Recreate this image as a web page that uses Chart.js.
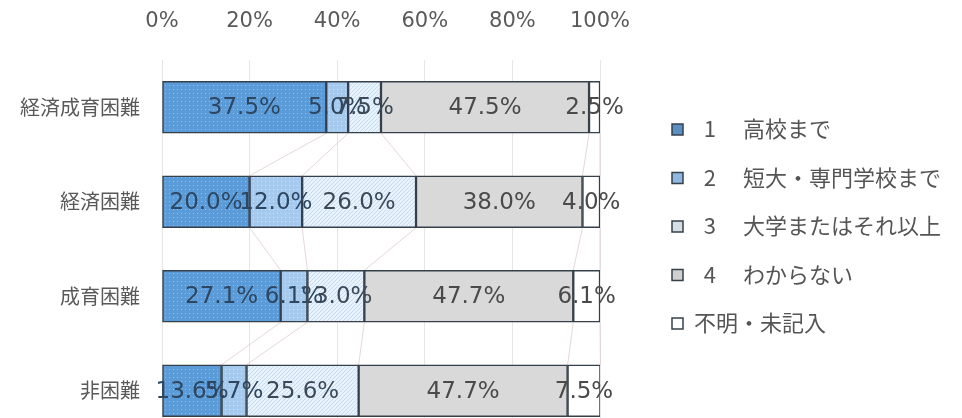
<!DOCTYPE html>
<html>
<head>
<meta charset="utf-8">
<script src="https://cdn.jsdelivr.net/npm/chart.js@4"></script>
<style>
  html, body { margin: 0; padding: 0; background: #fff; overflow: hidden; height: 418px; }
  canvas { display: block; }
</style>
</head>
<body>
<canvas id="myChart" width="962" height="472"></canvas>
<script>
const categories = ['経済成育困難', '経済困難', '成育困難', '非困難'];
const seriesNames = ['  1\u3000 高校まで', '  2\u3000 短大・専門学校まで', '  3\u3000 大学またはそれ以上', '  4\u3000 わからない', '不明・未記入'];
const highSchool = [37.5, 20.0, 27.1, 13.6];
const juniorCollege = [5.0, 12.0, 6.1, 5.7];
const university = [7.5, 26.0, 13.0, 25.6];
const unknown = [47.5, 38.0, 47.7, 47.7];
const noAnswer = [2.5, 4.0, 6.1, 7.5];
const tickValues = [0, 20, 40, 60, 80, 100];

// little fill patterns like the excel ones
function makePattern(base, mark, kind) {
  const c = document.createElement('canvas');
  c.width = 4; c.height = 4;
  const g = c.getContext('2d');
  g.fillStyle = base;
  g.fillRect(0, 0, 4, 4);
  g.fillStyle = mark;
  if (kind === 'dots') {
    g.fillRect(1, 1, 1, 1);
  } else {
    g.fillRect(0, 3, 1, 1); g.fillRect(1, 2, 1, 1); g.fillRect(2, 1, 1, 1); g.fillRect(3, 0, 1, 1);
  }
  return g.createPattern(c, 'repeat');
}

const fills = [
  makePattern('#5b9bd8', '#8fc0ec', 'dots'),
  makePattern('#a6caee', '#cfe3f7', 'dots'),
  makePattern('#e8f2fc', '#c6dcf1', 'hatch'),
  '#d9d9d9',
  '#ffffff'
];
const legendFills = ['#5b8fc4', '#8fb8e0', '#d6dde6', '#d0d0d0', '#ffffff'];
const labelColors = ['#2e4660', '#2e4660', '#3c4a58', '#4a4a4a', '#4a4a4a'];

const seriesValues = [highSchool, juniorCollege, university, unknown, noAnswer];

const datasets = seriesValues.map((vals, i) => ({
  label: seriesNames[i],
  data: vals,
  backgroundColor: fills[i],
  borderColor: '#36404b',
  borderWidth: 1.5,
  borderSkipped: false,
  barThickness: 52
}));

// faint series lines between the bars
const seriesLines = {
  id: 'seriesLines',
  beforeDatasetsDraw(chart) {
    const ctx = chart.ctx;
    ctx.save();
    ctx.strokeStyle = 'rgba(225,205,205,0.8)';
    ctx.lineWidth = 1;
    chart.data.datasets.forEach((ds, i) => {
      const bars = chart.getDatasetMeta(i).data;
      for (let k = 0; k < bars.length - 1; k++) {
        const a = bars[k], b = bars[k + 1];
        ctx.beginPath();
        ctx.moveTo(a.x, a.y + a.height / 2);
        ctx.lineTo(b.x, b.y - b.height / 2);
        ctx.stroke();
      }
    });
    ctx.restore();
  }
};

const barLabels = {
  id: 'barLabels',
  afterDatasetsDraw(chart) {
    const ctx = chart.ctx;
    ctx.save();
    ctx.font = '23px "DejaVu Sans"';
    ctx.textAlign = 'center';
    ctx.textBaseline = 'middle';
    chart.data.datasets.forEach((ds, i) => {
      ctx.fillStyle = labelColors[i];
      chart.getDatasetMeta(i).data.forEach((bar, k) => {
        const cx = (bar.x + bar.base) / 2;
        ctx.fillText(ds.data[k].toFixed(1) + '%', cx, bar.y + 1);
      });
    });
    ctx.restore();
  }
};

const sideLegend = {
  id: 'sideLegend',
  afterDraw(chart) {
    const ctx = chart.ctx;
    ctx.save();
    ctx.font = '22px "Noto Sans CJK JP"';
    ctx.textBaseline = 'middle';
    chart.data.datasets.forEach((ds, i) => {
      const y = 129 + i * 48.5;
      ctx.fillStyle = legendFills[i];
      ctx.fillRect(672, y - 5, 11, 11);
      ctx.strokeStyle = '#36404b';
      ctx.lineWidth = 1.5;
      ctx.strokeRect(672, y - 5, 11, 11);
      ctx.fillStyle = '#555';
      ctx.fillText(ds.label, 694, y);
    });
    ctx.restore();
  }
};

new Chart(document.getElementById('myChart').getContext('2d'), {
  type: 'bar',
  data: { labels: categories, datasets: datasets },
  options: {
    indexAxis: 'y',
    responsive: false,
    animation: false,
    layout: { padding: { left: 0, right: 362, top: 0, bottom: 8 } },
    plugins: {
      legend: { display: false },
      tooltip: { enabled: false }
    },
    scales: {
      x: {
        position: 'top',
        stacked: true,
        min: 0,
        max: 100,
        afterBuildTicks(scale) {
          scale.ticks = tickValues.map(v => ({ value: v }));
        },
        afterFit(scale) { scale.height = 60; },
        ticks: {
          callback: v => v + '%',
          color: '#5a5a5a',
          font: { family: 'DejaVu Sans', size: 21 },
          padding: 26
        },
        grid: { color: '#e6e6e6', drawTicks: false },
        border: { display: false }
      },
      y: {
        stacked: true,
        afterFit(scale) { scale.width = 162; },
        ticks: {
          color: '#595959',
          font: { family: 'Noto Sans CJK JP', size: 20 },
          padding: 22
        },
        grid: { display: false, drawTicks: false },
        border: { display: false }
      }
    }
  },
  plugins: [seriesLines, barLabels, sideLegend]
});
</script>
</body>
</html>
